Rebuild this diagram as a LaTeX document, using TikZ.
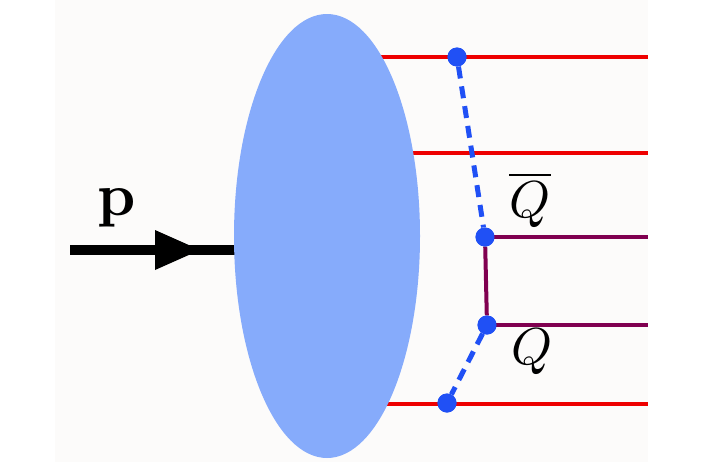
\documentclass[tikz,border=0pt]{standalone}
\usepackage{amsmath}
\usepackage{tikz}
\usetikzlibrary{arrows.meta,positioning,shapes}
\definecolor{blob}{HTML}{86ABFB}
\definecolor{dotblue}{HTML}{2050F5}
\definecolor{quarkred}{HTML}{EE0000}
\definecolor{heavy}{HTML}{800050}
\definecolor{panel}{HTML}{FCFBFA}
\newcommand{\biglabel}[2][5.2]{\scalebox{#1}{#2}}
\tikzset{
  parton/.style={quarkred,line width=4pt},
  heavyq/.style={heavy,line width=4pt},
  link/.style={dotblue,line width=5pt,dash pattern=on 12pt off 8pt},
  vtx/.style={circle,fill=dotblue,inner sep=0pt,minimum size=19pt}
}
\begin{document}
\begin{tikzpicture}[x=1pt,y=-1pt]
\useasboundingbox (0,0) rectangle (703,466);
\fill[panel] (55,0) rectangle (648,462);
\coordinate (r1) at (648,57);
\coordinate (r2) at (648,153);
\coordinate (r3) at (648,404);
\coordinate (h1) at (648,232);
\coordinate (h2) at (648,325);
\coordinate (s1) at (340,57);
\coordinate (s2) at (340,153);
\coordinate (s3) at (340,404);
\coordinate (pin) at (70,250);
\coordinate (pend) at (260,250);
\draw[parton] (s1) -- (r1);
\draw[parton] (s2) -- (r2);
\draw[parton] (s3) -- (r3);
\draw[line width=10pt] (pin) -- (pend);
\node[ellipse,fill=blob,minimum width=186pt,minimum height=444pt,inner sep=0pt] (had) at (327,236) {};
\fill (155,230) -- (200,250) -- (155,270) -- cycle;
\node[vtx] (v1) at (457,57) {};
\node[vtx] (v2) at (485,237) {};
\node[vtx] (v3) at (487,325) {};
\node[vtx] (v4) at (447,403) {};
\draw[heavyq] (v2.center) -- (v2.center -| h1);
\draw[heavyq] (v3.center) -- (v3.center -| h2);
\draw[heavyq] (v2) -- (v3);
\draw[link] (v1) -- (v2);
\draw[link] (v3) -- (v4);
\node[vtx] at (v1) {};
\node[vtx] at (v2) {};
\node[vtx] at (v3) {};
\node[vtx] at (v4) {};
\node (qbar) at (530,200) {\biglabel{$\overline{Q}$}};
\node (q) at (532,352) {\biglabel{$Q$}};
\node (plabel) at (117,208) {\biglabel[6]{$\mathbf{p}$}};
\end{tikzpicture}
\end{document}
